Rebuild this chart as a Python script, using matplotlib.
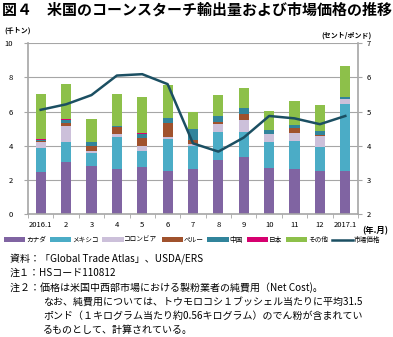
import numpy as np
import matplotlib
matplotlib.use("Agg")
import matplotlib.pyplot as plt

plt.rcParams['font.family'] = ['Noto Sans CJK JP', 'DejaVu Sans']

# datos (miles de toneladas)
meses = ['2016.1', '2', '3', '4', '5', '6', '7', '8', '9', '10', '11', '12', '2017.1']
canada = [2.49, 3.04, 2.82, 2.63, 2.74, 2.53, 2.63, 3.17, 3.32, 2.72, 2.66, 2.54, 2.54]
mexico = [1.36, 1.20, 0.74, 1.91, 0.98, 1.85, 1.36, 1.65, 1.46, 1.52, 1.64, 1.37, 3.88]
colombia = [0.39, 0.92, 0.13, 0.13, 0.29, 0.12, 0.11, 0.43, 0.73, 0.45, 0.46, 0.66, 0.29]
peru = [0.06, 0.19, 0.31, 0.41, 0.46, 0.81, 0.24, 0.16, 0.35, 0.02, 0.30, 0.06, 0.01]
china = [0.06, 0.14, 0.20, 0.06, 0.24, 0.33, 0.62, 0.33, 0.35, 0.19, 0.15, 0.25, 0.14]
japon = [0.04, 0.06, 0.01, 0.01, 0.01, 0.01, 0.01, 0.01, 0.01, 0.01, 0.01, 0.01, 0.01]
otros = [2.64, 2.05, 1.36, 1.90, 2.10, 1.91, 1.03, 1.22, 1.13, 1.11, 1.42, 1.50, 1.81]
# precio de mercado (centavos/libra)
precio = [5.05, 5.21, 5.48, 6.05, 6.09, 5.80, 4.07, 3.83, 4.24, 4.87, 4.80, 4.63, 4.87]

series = [canada, mexico, colombia, peru, china, japon, otros]
nombres = ['カナダ', 'メキシコ', 'コロンビア', 'ペルー', '中国', '日本', 'その他']
colores = ['#8064A2', '#4BACC6', '#CCC0DA', '#A0522D', '#31849B', '#D6006F', '#8DC04A']

fig = plt.figure(figsize=(3.93, 3.37), dpi=100)
ax = fig.add_axes([28/393, 122.7/337, 330/393, 171.3/337])

x = np.arange(len(meses))
base = np.zeros(len(meses))
for datos, nombre, color in zip(series, nombres, colores):
    ax.bar(x, datos, width=0.4, bottom=base, color=color, label=nombre, zorder=2)
    base += np.array(datos)

ax.set_xlim(-0.5, len(meses) - 0.5)
ax.set_ylim(0, 10)
ax.set_yticks(range(0, 11, 2))
ax.grid(axis='y', color='#A6A6A6', linewidth=0.8, zorder=0)
ax.set_axisbelow(True)
ax.set_xticks(x)
ax.set_xticklabels(meses, fontsize=5.5)
ax.set_xticks(np.arange(-0.5, len(meses)), minor=True)
ax.tick_params(axis='x', which='major', length=0, pad=5)
ax.tick_params(axis='x', which='minor', length=3, color='#A6A6A6')
ax.tick_params(axis='y', labelsize=5.5, length=3, color='#A6A6A6', pad=8)
for s in ['top', 'right']:
    ax.spines[s].set_visible(False)
for s in ['left', 'bottom']:
    ax.spines[s].set_color('#A6A6A6')
    ax.spines[s].set_linewidth(1.2)

ax2 = ax.twinx()
ax2.plot(x, precio, color='#1B4F62', linewidth=1.8, label='市場価格', zorder=3)
ax2.set_ylim(2, 7)
ax2.set_yticks(range(2, 8))
ax2.tick_params(axis='y', labelsize=5.5, length=3, color='#A6A6A6', pad=3)
for s in ['top', 'left', 'bottom']:
    ax2.spines[s].set_visible(False)
ax2.spines['right'].set_color('#A6A6A6')
ax2.spines['right'].set_linewidth(1.2)

# titulo y etiquetas
fig.text(2/393, 1 - 10/337, '図４　米国のコーンスターチ輸出量および市場価格の推移',
         fontsize=10.8, fontweight='bold', va='center', ha='left')
fig.text(4/393, 1 - 30/337, '(千トン)', fontsize=5, fontweight='bold', va='center')
fig.text(372/393, 1 - 35/337, '(セント/ポンド)', fontsize=5, fontweight='bold',
         va='center', ha='right')
fig.text(362/393, 1 - 231/337, '(年.月)', fontsize=6, fontweight='bold', va='center')

h1, l1 = ax.get_legend_handles_labels()
h2, l2 = ax2.get_legend_handles_labels()
fig.legend(h1 + h2, l1 + l2, loc='center left', bbox_to_anchor=(4/393, 1 - 240/337),
           ncol=8, frameon=False, fontsize=4.8, handlelength=3.2, handleheight=0.8,
           columnspacing=0.6, handletextpad=0.1, borderaxespad=0, borderpad=0)

notas = [
    (10, 259, '資料：「Global Trade Atlas」、USDA/ERS'),
    (10, 273, '注１：HSコード110812'),
    (10, 288, '注２：価格は米国中西部市場における製粉業者の純費用（Net Cost)。'),
    (43, 302, 'なお、純費用については、トウモロコシ１ブッシェル当たりに平均31.5'),
    (43, 316, 'ポンド（１キログラム当たり約0.56キログラム）のでん粉が含まれてい'),
    (43, 330, 'るものとして、計算されている。'),
]
for px, py, t in notas:
    fig.text(px/393, 1 - py/337, t, fontsize=7.2, va='center', ha='left')

fig.savefig('out.png', dpi=100)
